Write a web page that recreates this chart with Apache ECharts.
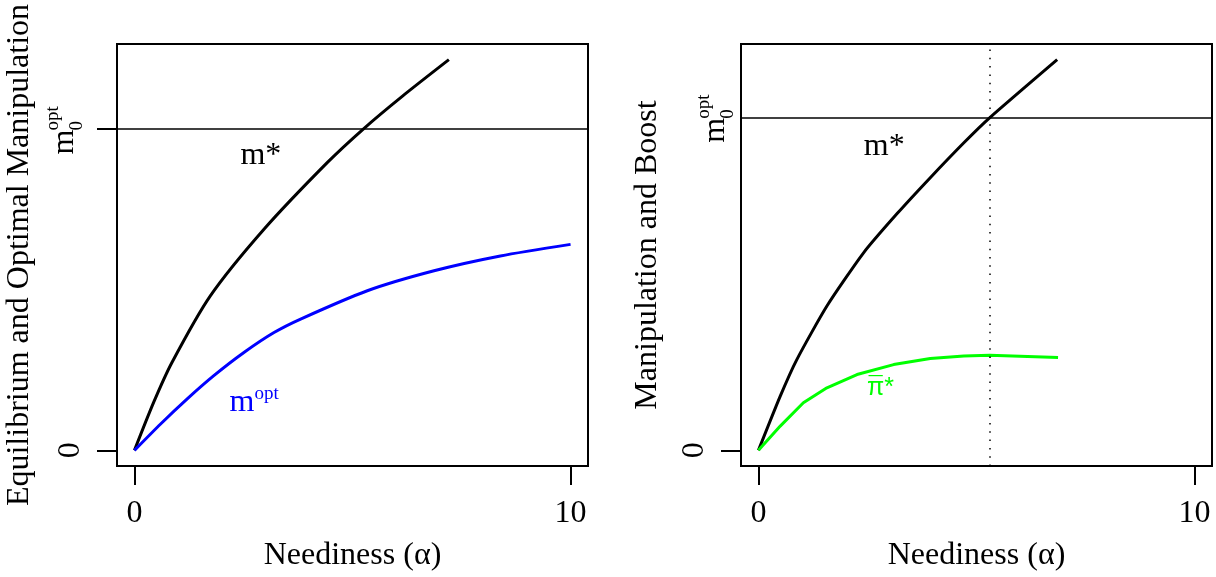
<!DOCTYPE html>
<html>
<head>
<meta charset="utf-8">
<title>Neediness</title>
<script src="https://cdn.jsdelivr.net/npm/echarts@6.0.0/dist/echarts.min.js"></script>
<style>
html, body { margin: 0; padding: 0; background: #fff; }
#main { width: 1216px; height: 577px; }
</style>
</head>
<body>
<div id="main"></div>
<script>
// ticks (y = 1 stands for m0opt)
var xTicks = [0, 10];
var yTicksLeft = [0, 1];
var yTicksRight = [0];
var m0opt = 1;

// left panel: equilibrium m* and optimal m
var alphaStarLeft = [0, 0.44, 0.86, 1.74, 2.97, 4.42, 5.26, 6.14, 7.21];
var mStarLeft = [0, 0.149, 0.273, 0.48, 0.687, 0.894, 1.0, 1.10, 1.214];
var alphaOpt = [0, 0.6, 1.21, 1.82, 2.51, 3.2, 3.81, 5.34, 6.87, 8.39, 10];
var mOpt = [0, 0.082, 0.16, 0.232, 0.304, 0.366, 0.408, 0.496, 0.558, 0.604, 0.64];

// right panel: m* and boost
var alphaStarRight = [0, 0.5, 0.88, 1.57, 2.41, 3.18, 3.94, 4.71, 5.3, 6.85];
var mStarRight = [0, 0.163, 0.273, 0.434, 0.594, 0.712, 0.82, 0.925, 1.0, 1.175];
var alphaBoost = [0, 0.5, 1.03, 1.57, 2.26, 3.1, 3.94, 4.71, 5.3, 6.87];
var boost = [0, 0.073, 0.143, 0.188, 0.228, 0.258, 0.276, 0.284, 0.286, 0.279];
var alphaCut = 5.3;

var FONT = 'Liberation Serif';

function zip(xs, ys) {
    return xs.map(function (x, i) { return [x, ys[i]]; });
}

// R style 4% padding
function pad(lo, hi) {
    var d = (hi - lo) * 0.04;
    return [lo - d, hi + d];
}

var xLim = pad(0, 10);
var yLimLeft = pad(0, Math.max.apply(null, mStarLeft));
var yLimRight = pad(0, Math.max.apply(null, mStarRight));

function makeX(gi) {
    return {
        type: 'value', gridIndex: gi, min: xLim[0], max: xLim[1],
        axisLine: {show: false, onZero: false},
        axisTick: {show: true, customValues: xTicks, length: 19, lineStyle: {color: '#000', width: 2}},
        axisLabel: {customValues: xTicks, margin: 32, fontSize: 32, color: '#000', fontFamily: FONT},
        splitLine: {show: false},
        name: 'Neediness (α)', nameLocation: 'middle', nameGap: 74,
        nameTextStyle: {fontSize: 32, color: '#000', fontFamily: FONT}
    };
}

function makeY(gi, ticks, lim, title, gap) {
    return {
        type: 'value', gridIndex: gi, min: lim[0], max: lim[1],
        axisLine: {show: false, onZero: false},
        axisTick: {show: true, customValues: ticks, length: 20, lineStyle: {color: '#000', width: 2}},
        axisLabel: {customValues: [0], rotate: 90, margin: 30, fontSize: 32, color: '#000', fontFamily: FONT},
        splitLine: {show: false},
        name: title, nameLocation: 'middle', nameRotate: 90, nameGap: gap,
        nameTextStyle: {fontSize: 32, color: '#000', fontFamily: FONT}
    };
}

var hLine = {yAxis: m0opt, lineStyle: {color: '#000', width: 1.5, type: 'solid'}};

var option = {
    animation: false,
    backgroundColor: '#fff',
    textStyle: {fontFamily: FONT},
    grid: [
        {left: 117, top: 44, width: 471, height: 423, show: true, borderColor: '#000', borderWidth: 2},
        {left: 741, top: 44, width: 471, height: 423, show: true, borderColor: '#000', borderWidth: 2}
    ],
    xAxis: [makeX(0), makeX(1)],
    yAxis: [
        makeY(0, yTicksLeft, yLimLeft, 'Equilibrium and Optimal Manipulation', 81),
        makeY(1, yTicksRight, yLimRight, 'Manipulation and Boost', 77)
    ],
    series: [
        {
            name: 'm* left', type: 'line', xAxisIndex: 0, yAxisIndex: 0,
            data: zip(alphaStarLeft, mStarLeft), symbol: 'none', smooth: 0.25,
            lineStyle: {color: '#000', width: 3},
            markLine: {silent: true, symbol: 'none', label: {show: false}, data: [hLine]}
        },
        {
            name: 'm opt', type: 'line', xAxisIndex: 0, yAxisIndex: 0,
            data: zip(alphaOpt, mOpt), symbol: 'none', smooth: 0.25,
            lineStyle: {color: '#0000ff', width: 3}
        },
        {
            name: 'm* right', type: 'line', xAxisIndex: 1, yAxisIndex: 1,
            data: zip(alphaStarRight, mStarRight), symbol: 'none', smooth: 0.2,
            lineStyle: {color: '#000', width: 3},
            markLine: {
                silent: true, symbol: 'none', label: {show: false},
                data: [
                    hLine,
                    {xAxis: alphaCut, lineStyle: {color: '#000', width: 1.5, type: [1.5, 6.8]}}
                ]
            }
        },
        {
            name: 'boost', type: 'line', xAxisIndex: 1, yAxisIndex: 1,
            data: zip(alphaBoost, boost), symbol: 'none',
            lineStyle: {color: '#00ff00', width: 3}
        }
    ]
};

var chart = echarts.init(document.getElementById('main'));
chart.setOption(option);

// text placed from data coordinates
function px(gi, x, y) {
    return chart.convertToPixel({gridIndex: gi}, [x, y]);
}

function txt(x, y, s, size, color, align, family) {
    return {
        type: 'text', x: x, y: y, silent: true,
        style: {
            text: s, fontSize: size, fontFamily: family || FONT, fill: color,
            align: align || 'center', verticalAlign: 'middle',
            textAlign: align || 'center', textVerticalAlign: 'middle'
        }
    };
}

// rotated m_0^opt tick label, (bx, by) = baseline start of "m"
function m0Label(bx, by) {
    return {
        type: 'group', x: bx, y: by, rotation: Math.PI / 2,
        children: [
            txt(0, -10, 'm', 32, '#000', 'left'),
            txt(24, 2, '0', 19, '#000', 'left'),
            txt(24, -22, 'opt', 19, '#000', 'left')
        ]
    };
}

var tickL = px(0, xLim[0], m0opt);
var tickR = px(1, xLim[0], m0opt);
var starL = px(0, 2.9, 0.916);
var starR = px(1, 2.885, 0.914);
var optP = px(0, 2.18, 0.113);
var boostP = px(1, 2.8, 0.188);

chart.setOption({
    graphic: [
        m0Label(tickL[0] - 42, tickL[1] + 26),
        m0Label(tickR[0] - 15, tickR[1] + 25),
        txt(starL[0], starL[1], 'm*', 32, '#000'),
        txt(starR[0], starR[1], 'm*', 32, '#000'),
        txt(optP[0], optP[1] - 11, 'm', 32, '#0000ff', 'left'),
        txt(optP[0] + 25, optP[1] - 20, 'opt', 19, '#0000ff', 'left'),
        txt(boostP[0], boostP[1], 'π*', 25, '#00ff00', 'center', 'Liberation Sans'),
        // bar over pi
        txt(boostP[0] - 5, boostP[1], '\u00af', 25, '#00ff00', 'center', 'Liberation Sans')
    ]
});
</script>
</body>
</html>
